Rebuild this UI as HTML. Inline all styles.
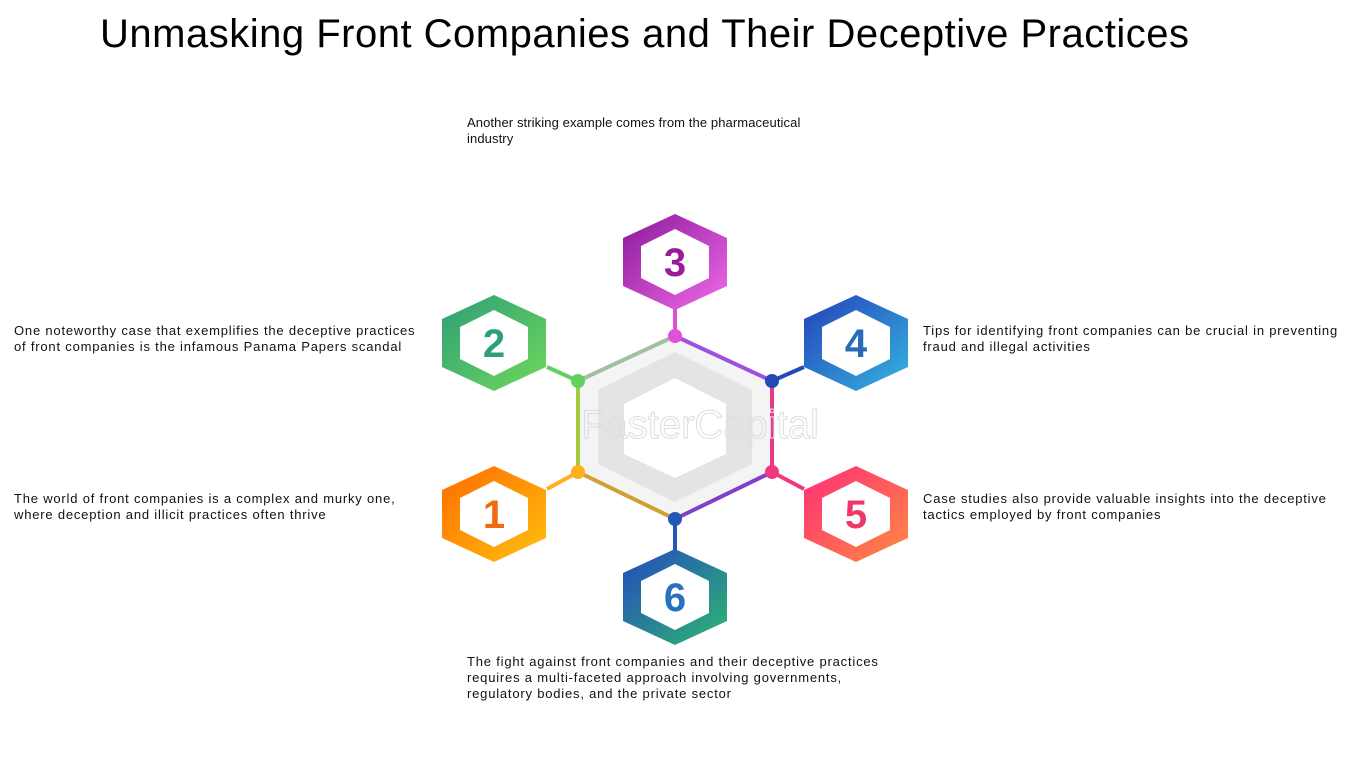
<!DOCTYPE html>
<html><head><meta charset="utf-8"><style>
body{margin:0;width:1350px;height:759px;background:#fff;position:relative;overflow:hidden;font-family:"Liberation Sans",sans-serif;}
.t{position:absolute;font-size:13px;line-height:16px;color:#111;white-space:nowrap;letter-spacing:0.8px;}
h1{position:absolute;left:100px;top:12px;margin:0;font-weight:normal;font-size:40px;line-height:44px;color:#000;white-space:nowrap;letter-spacing:0.5px;}
</style></head><body>
<h1>Unmasking Front Companies and Their Deceptive Practices</h1>
<div class="t" style="left:467px;top:115px;letter-spacing:0.1px">Another striking example comes from the pharmaceutical<br>industry</div>
<div class="t" style="left:14px;top:323px">One noteworthy case that exemplifies the deceptive practices<br>of front companies is the infamous Panama Papers scandal</div>
<div class="t" style="left:14px;top:491px">The world of front companies is a complex and murky one,<br>where deception and illicit practices often thrive</div>
<div class="t" style="left:923px;top:323px">Tips for identifying front companies can be crucial in preventing<br>fraud and illegal activities</div>
<div class="t" style="left:923px;top:491px">Case studies also provide valuable insights into the deceptive<br>tactics employed by front companies</div>
<div class="t" style="left:467px;top:654px">The fight against front companies and their deceptive practices<br>requires a multi-faceted approach involving governments,<br>regulatory bodies, and the private sector</div>
<svg width="1350" height="759" style="position:absolute;left:0;top:0">
<defs>
<linearGradient id="g1" x1="0" y1="0" x2="1" y2="1"><stop offset="0" stop-color="#ff6a00"/><stop offset="1" stop-color="#ffc20e"/></linearGradient>
<linearGradient id="g2" x1="0" y1="0" x2="1" y2="1"><stop offset="0" stop-color="#2e9e78"/><stop offset="1" stop-color="#6fd85a"/></linearGradient>
<linearGradient id="g3" x1="0" y1="0" x2="1" y2="1"><stop offset="0" stop-color="#8a1a9a"/><stop offset="1" stop-color="#f06ae8"/></linearGradient>
<linearGradient id="g4" x1="0" y1="0" x2="1" y2="1"><stop offset="0" stop-color="#2440b8"/><stop offset="1" stop-color="#35b6e0"/></linearGradient>
<linearGradient id="g5" x1="0" y1="0" x2="1" y2="1"><stop offset="0" stop-color="#ff2d78"/><stop offset="1" stop-color="#ff8a40"/></linearGradient>
<linearGradient id="g6" x1="0" y1="0" x2="1" y2="1"><stop offset="0" stop-color="#2448c0"/><stop offset="1" stop-color="#2db870"/></linearGradient>
</defs>
<polygon points="675,336 772,381 772,472 675,519 578,472 578,381" fill="#f4f4f5"/>
<polygon points="675,352 752,390 752,464 675,502 598,464 598,390" fill="#e4e4e6"/>
<polygon points="675,378 726,404 726,454 675,478 624,454 624,404" fill="#fff"/>
<g stroke-width="4" fill="none">
<line x1="675" y1="336" x2="772" y2="381" stroke="#a050e0"/>
<line x1="772" y1="381" x2="772" y2="472" stroke="#e83a8a"/>
<line x1="772" y1="472" x2="675" y2="519" stroke="#8040c8"/>
<line x1="675" y1="519" x2="578" y2="472" stroke="#d0a030"/>
<line x1="578" y1="472" x2="578" y2="381" stroke="#a8c840"/>
<line x1="578" y1="381" x2="675" y2="336" stroke="#a0c0a0"/>
<line x1="675" y1="308" x2="675" y2="336" stroke="#e050d8"/>
<line x1="547" y1="367" x2="578" y2="381" stroke="#60d060"/>
<line x1="547" y1="489" x2="578" y2="472" stroke="#ffb020"/>
<line x1="804" y1="367" x2="772" y2="381" stroke="#2448b8"/>
<line x1="804" y1="489" x2="772" y2="472" stroke="#f03880"/>
<line x1="675" y1="519" x2="675" y2="550" stroke="#2458b8"/>
</g>
<circle cx="675" cy="336" r="7" fill="#e050d8"/>
<circle cx="578" cy="381" r="7" fill="#60d060"/>
<circle cx="578" cy="472" r="7" fill="#ffb020"/>
<circle cx="772" cy="381" r="7" fill="#2448b8"/>
<circle cx="772" cy="472" r="7" fill="#f03880"/>
<circle cx="675" cy="519" r="7" fill="#2458b8"/>
<text x="700" y="438" font-size="40" text-anchor="middle" fill="none" stroke="#ddd" stroke-width="1" font-family="Liberation Sans">FasterCapital</text>
<g font-family="Liberation Sans" font-weight="bold" font-size="40" text-anchor="middle">
<g transform="translate(494,514)"><polygon points="0,-48 52,-24 52,24 0,48 -52,24 -52,-24" fill="url(#g1)"/><polygon points="0,-33 34,-16 34,16 0,33 -34,16 -34,-16" fill="#fff"/><text y="14" fill="#f26a10">1</text></g>
<g transform="translate(494,343)"><polygon points="0,-48 52,-24 52,24 0,48 -52,24 -52,-24" fill="url(#g2)"/><polygon points="0,-33 34,-16 34,16 0,33 -34,16 -34,-16" fill="#fff"/><text y="14" fill="#2e9e80">2</text></g>
<g transform="translate(675,262)"><polygon points="0,-48 52,-24 52,24 0,48 -52,24 -52,-24" fill="url(#g3)"/><polygon points="0,-33 34,-16 34,16 0,33 -34,16 -34,-16" fill="#fff"/><text y="14" fill="#9a1c98">3</text></g>
<g transform="translate(856,343)"><polygon points="0,-48 52,-24 52,24 0,48 -52,24 -52,-24" fill="url(#g4)"/><polygon points="0,-33 34,-16 34,16 0,33 -34,16 -34,-16" fill="#fff"/><text y="14" fill="#2a6ab8">4</text></g>
<g transform="translate(856,514)"><polygon points="0,-48 52,-24 52,24 0,48 -52,24 -52,-24" fill="url(#g5)"/><polygon points="0,-33 34,-16 34,16 0,33 -34,16 -34,-16" fill="#fff"/><text y="14" fill="#f03868">5</text></g>
<g transform="translate(675,597)"><polygon points="0,-48 52,-24 52,24 0,48 -52,24 -52,-24" fill="url(#g6)"/><polygon points="0,-33 34,-16 34,16 0,33 -34,16 -34,-16" fill="#fff"/><text y="14" fill="#2a70c0">6</text></g>
</g>
</svg>
</body></html>
